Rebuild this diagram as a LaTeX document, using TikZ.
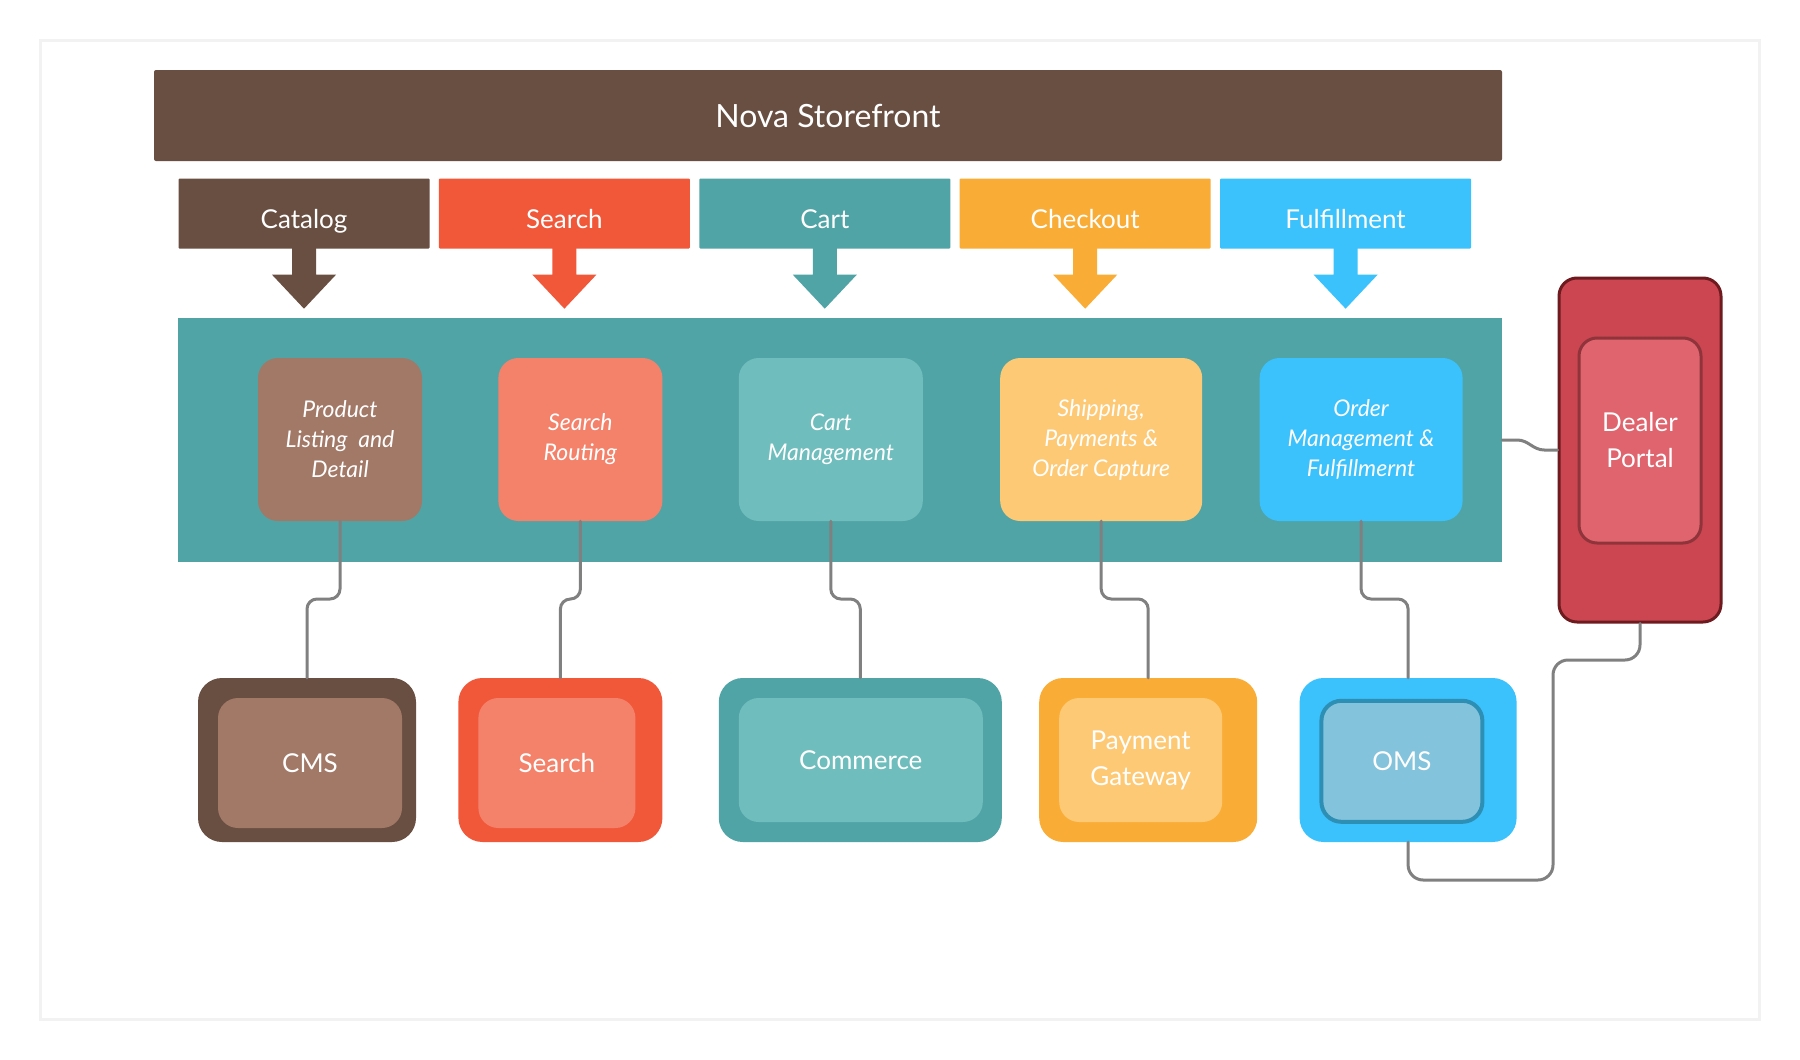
\documentclass[tikz,border=0pt]{standalone}
\usepackage{fontspec}
\setmainfont{Lato}
\usetikzlibrary{
  positioning,
  calc}
\definecolor{storebrown}{RGB}{105,78,66}
\definecolor{catalogtan}{RGB}{162,120,103}
\definecolor{searchred}{RGB}{241,88,58}
\definecolor{searchsalmon}{RGB}{244,130,106}
\definecolor{cartteal}{RGB}{80,164,166}
\definecolor{cartmint}{RGB}{111,190,189}
\definecolor{checkoutorange}{RGB}{249,173,55}
\definecolor{checkoutsand}{RGB}{254,201,117}
\definecolor{fulfilblue}{RGB}{59,193,252}
\definecolor{omssky}{RGB}{132,195,220}
\definecolor{omsedge}{RGB}{46,143,181}
\definecolor{dealerred}{RGB}{203,70,81}
\definecolor{dealerdark}{RGB}{110,27,32}
\definecolor{portalpink}{RGB}{224,100,110}
\definecolor{portaldark}{RGB}{143,52,59}
\definecolor{linkgray}{RGB}{128,128,128}
\definecolor{framegray}{RGB}{242,242,242}
\tikzset{
  tabarrow/.pic = {
    \fill (12,-1) -- (-12,-1) -- (-12,26) -- (-32,26) -- (0,60) -- (32,26) -- (12,26) -- cycle;
  }
}
\tikzset{
  %% banner : the storefront title bar
  banner/.style={
    rectangle,
    fill=storebrown,
    text=white,
    rounded corners=2pt,
    minimum width=1348pt,
    minimum height=91pt,
    font=\fontsize{32}{38}\selectfont
  },
  %% tab : a channel tab above the feature band
  tab/.style={
    rectangle,
    text=white,
    rounded corners=1pt,
    inner sep=0pt,
    text height=29pt,
    text depth=0pt,
    minimum width=251pt,
    minimum height=70pt,
    font=\fontsize{26}{32}\selectfont
  },
  %% featureband : the band that holds the features
  featureband/.style={
    rectangle,
    fill=cartteal,
    inner sep=0pt,
    minimum width=1324pt,
    minimum height=244pt
  },
  %% feature : a feature box inside the band
  feature/.style={
    rectangle,
    rounded corners=20pt,
    text=white,
    inner sep=0pt,
    minimum height=163pt,
    align=center,
    font=\fontsize{23}{30}\selectfont\itshape
  },
  %% system : outer box of a back-end system
  system/.style={
    rectangle,
    rounded corners=24pt,
    inner sep=0pt,
    minimum height=164pt
  },
  %% syscore : inner box of a back-end system
  syscore/.style={
    rectangle,
    anchor=north west,
    rounded corners=20pt,
    text=white,
    inner sep=0pt,
    align=center,
    font=\fontsize{26}{36}\selectfont
  },
  %% link : connector between boxes
  link/.style={draw=linkgray, line width=3pt, rounded corners=10pt, line cap=round},
  %% frame : light frame round the whole figure
  frame/.style={draw=framegray, line width=3pt}
}

\begin{document}
\begin{tikzpicture}
  [x=1pt,
  y=-1pt]

  \useasboundingbox (0,0) rectangle (1800,1060);
  \fill [white] (0,0) rectangle (1800,1060);
  \draw [frame] (40,40) rectangle (1759,1019);

  %% Storefront and channels
  \node (storefront) [banner] at (828,115.5) {Nova Storefront};

  \node (catalog) [tab, fill=storebrown] at (304,213.5) {Catalog};
  \node (search) [tab, fill=searchred, right=9pt of catalog] {Search};
  \node (cart) [tab, fill=cartteal, right=9pt of search] {Cart};
  \node (checkout) [tab, fill=checkoutorange, right=9pt of cart] {Checkout};
  \node (fulfilment) [tab, fill=fulfilblue, right=9pt of checkout] {Fulfillment};

  \pic [color=storebrown] at (catalog.south) {tabarrow};
  \pic [color=searchred] at (search.south) {tabarrow};
  \pic [color=cartteal] at (cart.south) {tabarrow};
  \pic [color=checkoutorange] at (checkout.south) {tabarrow};
  \pic [color=fulfilblue] at (fulfilment.south) {tabarrow};

  %% Feature band
  \node (band) [featureband] at (840,440) {};

  \node (product) [feature, fill=catalogtan, minimum width=164pt] at (340,439.5) {%
    Product\\Listing \ and\\Detail
  };
  \node (routing) [feature, fill=searchsalmon, minimum width=164pt, right=76pt of product] {%
    Search\\Routing
  };
  \node (cartmgmt) [feature, fill=cartmint, minimum width=184pt, right=76pt of routing] {%
    Cart\\Management
  };
  \node (shipping) [feature, fill=checkoutsand, minimum width=202pt, right=77pt of cartmgmt] {%
    Shipping,\\Payments \&\\Order Capture
  };
  \node (ordermgmt) [feature, fill=fulfilblue, minimum width=203pt, right=57pt of shipping] {%
    Order\\Management \&\\Fulfillmernt
  };

  %% Back-end systems
  \node (cmsframe) [system, fill=storebrown, minimum width=218pt] at (307,760) {};
  \node (cms) [syscore, fill=catalogtan, minimum width=184pt, minimum height=130pt]
    at ([shift={(20,20)}]cmsframe.north west) {CMS};

  \node (searchframe) [system, fill=searchred, minimum width=204pt, right=42pt of cmsframe] {};
  \node (searchsys) [syscore, fill=searchsalmon, minimum width=157pt, minimum height=130pt]
    at ([shift={(20,20)}]searchframe.north west) {Search};

  \node (commerceframe) [system, fill=cartteal, minimum width=283pt, right=56pt of searchframe] {};
  \node (commerce) [syscore, fill=cartmint, minimum width=244pt, minimum height=124pt]
    at ([shift={(20,20)}]commerceframe.north west) {Commerce};

  \node (paymentframe) [system, fill=checkoutorange, minimum width=218pt, right=37pt of commerceframe] {};
  \node (payment) [syscore, fill=checkoutsand, minimum width=163pt, minimum height=124pt]
    at ([shift={(20,20)}]paymentframe.north west) {Payment\\Gateway};

  \node (omsframe) [system, fill=fulfilblue, minimum width=217pt, right=42pt of paymentframe] {};
  \node (oms) [syscore, fill=omssky, draw=omsedge, line width=4pt, minimum width=161pt, minimum height=121pt]
    at ([shift={(20,21)}]omsframe.north west) {OMS};

  %% Dealer portal
  \node (dealer) [rectangle, fill=dealerred, draw=dealerdark, line width=3pt, rounded corners=18pt,
    minimum width=162pt, minimum height=344pt] at (1640,450) {};
  \node (portal) [rectangle, fill=portalpink, draw=portaldark, line width=3pt, rounded corners=18pt,
    minimum width=122pt, minimum height=205pt, text=white, align=center,
    font=\fontsize{26}{36}\selectfont] at (1640,440.5) {Dealer\\Portal};

  %% Connections
  \coordinate (mid) at (0,599);
  \draw [link] (product.south) -- (product.south |- mid) -- (cmsframe.north |- mid) -- (cmsframe.north);
  \draw [link] (routing.south) -- (routing.south |- mid) -- (searchframe.north |- mid) -- (searchframe.north);
  \draw [link] (cartmgmt.south) -- (cartmgmt.south |- mid) -- (commerceframe.north |- mid) -- (commerceframe.north);
  \draw [link] (shipping.south) -- (shipping.south |- mid) -- (paymentframe.north |- mid) -- (paymentframe.north);
  \draw [link] (ordermgmt.south) -- (ordermgmt.south |- mid) -- (omsframe.north |- mid) -- (omsframe.north);

  \draw [link, sharp corners] (band.east) -- ++(15,0) to[out=0, in=180] ++(27,10) -- (dealer.west);
  \draw [link, rounded corners=15pt] (omsframe.south) |- (1553,880) -- (1553,660) -| (dealer.south);

\end{tikzpicture}
\end{document}
